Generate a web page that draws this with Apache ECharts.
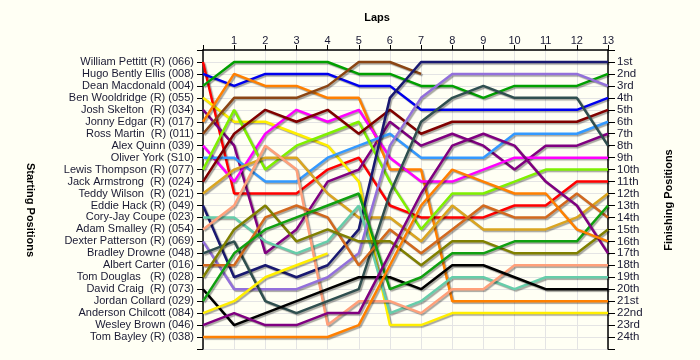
<!DOCTYPE html>
<html><head><meta charset="utf-8">
<script src="https://cdn.jsdelivr.net/npm/echarts@6/dist/echarts.min.js"></script>
<style>html,body{margin:0;padding:0;background:#FFFFF4}#c{width:700px;height:360px}</style>
</head><body><div id="c"></div>
<script>
const lapLabels = ['1','2','3','4','5','6','7','8','9','10','11','12','13'];
const startNames = ['William Pettitt (R) (066)','Hugo Bently Ellis (008)','Dean Macdonald (004)','Ben Wooldridge (R) (055)','Josh Skelton  (R) (034)','Jonny Edgar (R) (017)','Ross Martin  (R) (011)','Alex Quinn (039)','Oliver York (S10)','Lewis Thompson (R) (077)','Jack Armstrong  (R) (024)','Teddy Wilson  (R) (021)','Eddie Hack (R) (049)','Cory-Jay Coupe (023)','Adam Smalley (R) (054)','Dexter Patterson (R) (069)','Bradley Drowne (048)','Albert Carter (016)','Tom Douglas   (R) (028)','David Craig  (R) (073)','Jordan Collard (029)','Anderson Chilcott (084)','Wesley Brown (046)','Tom Bayley (R) (038)'];
const finishLabels = ['1st','2nd','3rd','4th','5th','6th','7th','8th','9th','10th','11th','12th','13th','14th','15th','16th','17th','18th','19th','20th','21st','22nd','23rd','24th'];

// positions per lap (lap 0 = start)
const pettitt   = [1,12,12,12,10,9,13,14,14,14,13,13,11,11];
const bentlyEllis = [2,3,2,2,2,3,3,5,5,5,5,5,5,4];
const macdonald = [3,1,1,1,1,2,2,3,3,4,3,3,3,2];
const wooldridge = [4,6,6,7,8,11,23,23,22,22,22,22,22,22];
const skelton   = [5,8,17,15,11,10,6,8,7,8,10,8,8,7];
const edgar     = [6,2,3,3,4,4,10,10,21,21,21,21,21,21];
const martin    = [7,4,4,4,3,1,1,2];
const quinn     = [8,11,7,5,6,5,9,11,11,10,9,9,9,9];
const york      = [9,9,11,11,9,8,7,9,9,9,7,7,7,6];
const thompson  = [10,5,10,8,7,6,11,15,12,12,11,10,10,10];
const armstrong = [11,7,5,6,5,7,5,7,6,6,6,6,6,5];
const wilson    = [12,10,9,9,12,14,14,16,13,15,15,15,14,12];
const hack      = [13,19,18,19,18,15,4,1,1,1,1,1,1,1];
const coupe     = [14,14,16,17,16,13,22,21,19,19,20,19,19,19];
const smalley   = [15,13,8,10,23,21,21,22,20,20,18,18,18,18];
const patterson = [16,20,20,20,19,17,8,4,2,2,2,2,2,3];
const drowne    = [17,16,21,22,21,20,12,6,4,3,4,4,4,8];
const carter    = [18,18,14,13,14,18,15,17,15,13,14,14,12,14];
const douglas   = [19,15,13,16,15,16,16,18,16,16,17,17,17,15];
const craig     = [20,23,22,21,20,19,19,20,18,18,19,20,20,20];
const collard   = [21,17,15,14,13,12,20,19,17,17,16,16,16,13];
const chilcott  = [22,21,19,18,17];
const wbrown    = [23,22,23,23,22,22,17,12,8,7,8,11,13,17];
const bayley    = [24,24,24,24,24,23,18,13,10,11,12,12,15,16];

const driverData = [pettitt,bentlyEllis,macdonald,wooldridge,skelton,edgar,martin,quinn,york,thompson,armstrong,wilson,hack,coupe,smalley,patterson,drowne,carter,douglas,craig,collard,chilcott,wbrown,bayley];
const driverColors = ['#FF0000','#0000EE','#00A000','#FFEE00','#800080','#FF8000','#8B4513','#FF00FF','#3399FF','#7FF000','#800000','#DAA520','#191970','#66CDAA','#FFA07A','#9370DB','#2F4F4F','#D2691E','#808000','#000000','#10A010','#FFEE00','#800080','#FF8000'];

const lblColor = '#1a1a33';
const font = 'Liberation Sans, Arial, sans-serif';

const series = driverData.map((arr, i) => ({
  type: 'line',
  name: startNames[i],
  data: arr.map((v, lap) => [lap, v]),
  symbol: 'none',
  silent: true,
  lineStyle: { color: driverColors[i], width: 2.5, shadowColor: 'rgba(0,0,0,0.35)', shadowBlur: 1, shadowOffsetX: 1.5, shadowOffsetY: 1.5 },
  z: 3
}));

const chart = echarts.init(document.getElementById('c'), null, {renderer: 'canvas'});
chart.setOption({
  backgroundColor: '#FFFFF4',
  animation: false,
  grid: { left: 203, right: 92, top: 50, bottom: 11 },
  xAxis: {
    type: 'value', min: 0, max: 13, interval: 1, position: 'top',
    axisLine: { lineStyle: { color: '#000', width: 1.5 } },
    axisTick: { length: 5, lineStyle: { color: '#000' } },
    axisLabel: { margin: 4, color: lblColor, fontFamily: font, fontSize: 11, formatter: v => v === 0 ? '' : lapLabels[v - 1] },
    splitLine: { show: true, lineStyle: { color: '#E4E4E4' } }
  },
  yAxis: [{
    type: 'value', min: 0, max: 25, interval: 1, inverse: true, position: 'left',
    axisLine: { show: true, lineStyle: { color: '#000', width: 1.5 } },
    axisTick: { show: true, length: 6, lineStyle: { color: '#000' } },
    axisLabel: { margin: 9, color: lblColor, fontFamily: font, fontSize: 11, formatter: v => (v >= 1 && v <= 24) ? startNames[v - 1] : '' },
    splitLine: { show: true, lineStyle: { color: '#E4E4E4' } }
  }, {
    type: 'value', min: 0, max: 25, interval: 1, inverse: true, position: 'right',
    axisLine: { show: true, lineStyle: { color: '#000', width: 1.5 } },
    axisTick: { show: true, length: 7, lineStyle: { color: '#000' } },
    axisLabel: { margin: 9, color: lblColor, fontFamily: font, fontSize: 11.5, formatter: v => (v >= 1 && v <= 24) ? finishLabels[v - 1] : '' },
    splitLine: { show: false }
  }],
  graphic: [
    { type: 'text', x: 377, y: 18, style: { text: 'Laps', font: 'bold 11px ' + font, fill: '#000', align: 'center', verticalAlign: 'middle' } },
    { type: 'text', x: 30, y: 210, rotation: -Math.PI / 2, style: { text: 'Starting Positions', font: 'bold 11px ' + font, fill: '#000', align: 'center', verticalAlign: 'middle' } },
    { type: 'text', x: 669, y: 200, rotation: Math.PI / 2, style: { text: 'Finishing Positions', font: 'bold 11px ' + font, fill: '#000', align: 'center', verticalAlign: 'middle' } }
  ],
  series: series
});
</script></body></html>
